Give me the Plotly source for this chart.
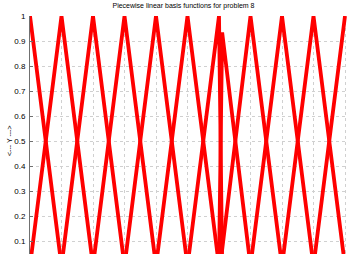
import numpy as np
import plotly.graph_objects as go

# Mesh nodes of the piecewise linear basis (one extra node just right of 0.6)
nodes = [0.0, 0.1, 0.2, 0.3, 0.4, 0.5, 0.6, 0.6037, 0.7, 0.8, 0.9, 1.0]
# Points at which the basis functions were evaluated for plotting
sample_step = 0.01
y_ticks = [0.1, 0.2, 0.3, 0.4, 0.5, 0.6, 0.7, 0.8, 0.9, 1.0]
y_tick_labels = ["0.1", "0.2", "0.3", "0.4", "0.5", "0.6", "0.7", "0.8", "0.9", "1"]
title_text = "Piecewise linear basis functions for problem 8"
y_label = "<--- Y --->"

xs = np.round(np.arange(0.0, 1.0 + sample_step / 2, sample_step), 10)


def hat(i, x):
    xi = nodes[i]
    y = np.zeros_like(x)
    if i > 0:
        xl = nodes[i - 1]
        m = (x >= xl) & (x <= xi)
        y[m] = (x[m] - xl) / (xi - xl)
    if i < len(nodes) - 1:
        xr = nodes[i + 1]
        m = (x >= xi) & (x <= xr)
        y[m] = np.maximum(y[m], (xr - x[m]) / (xr - xi))
    return y


fig = go.Figure()
for i in range(len(nodes)):
    fig.add_trace(go.Scatter(
        x=xs, y=hat(i, xs), mode="lines",
        line=dict(color="#ff0000", width=3.8),
        showlegend=False, hoverinfo="skip",
    ))

W, H = 347, 254
L, T = 30, 16
fig.update_layout(
    width=W, height=H,
    margin=dict(l=L, r=0, t=T, b=0, autoexpand=False),
    paper_bgcolor="white", plot_bgcolor="white",
    font=dict(family="Liberation Sans, Arial, sans-serif", size=8, color="black"),
    title=dict(text=title_text, x=183.5 / W, xanchor="center",
               y=1 - 6 / H, yanchor="middle", automargin=False,
               font=dict(size=7, color="black")),
    xaxis=dict(range=[0, (W - L) / 315.0], showgrid=True, automargin=False,
               gridcolor="#d0d0d0", griddash="dot", gridwidth=1,
               dtick=0.1, tick0=0, showticklabels=False, zeroline=False,
               showline=False, ticks=""),
    yaxis=dict(range=[1 - (H - T) / 250.0, 1.0], showgrid=True, automargin=False,
               gridcolor="#d0d0d0", griddash="dot", gridwidth=1,
               tickvals=y_ticks, ticktext=y_tick_labels, zeroline=False,
               showline=True, linecolor="#707070", linewidth=1,
               ticks="inside", ticklen=3, tickcolor="#707070",
               tickfont=dict(size=8), ticklabelstandoff=2),
    annotations=[dict(text=y_label, xref="paper", yref="paper",
                      x=0, xshift=-21, y=1 - (141 - T) / (H - T),
                      xanchor="center", yanchor="middle", textangle=-90,
                      showarrow=False, font=dict(size=7, color="black"))],
)

fig.write_html(
    "out.html",
    config={"displayModeBar": False},
    post_script="document.body.style.margin='0';document.body.style.overflow='hidden';",
)
